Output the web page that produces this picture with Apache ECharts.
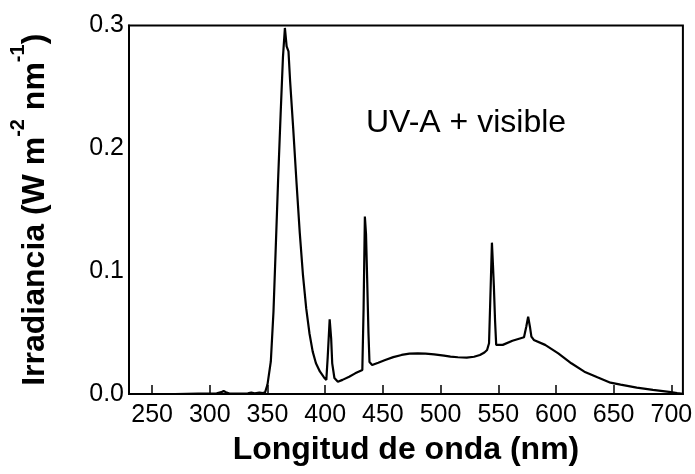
<!DOCTYPE html>
<html><head><meta charset="utf-8">
<script src="https://cdn.jsdelivr.net/npm/echarts@6/dist/echarts.min.js"></script>
<style>html,body{margin:0;padding:0;background:#fff}#c{width:695px;height:474px}</style>
</head><body><div id="c"></div>
<script>
const wavelength = [230,250,270,290,300,306,310,312,314,317,325,333,336,339,343,346,348,350,352.9,355.2,357.2,359.2,361.4,363.4,365.1,366.6,368.2,369.6,372.4,375.2,378,380.8,383.6,386.4,389.2,392,395.4,399,401,402.2,403.9,405.2,406.1,408,411,415,420.8,426,432.2,433.3,434.4,435.4,436.4,437.5,438.4,440.7,446,452,459,466.2,473,480.3,487,494.4,503,508.6,515,522.7,529,534.1,538,540.3,542,543.5,544.5,545.4,546.2,547.2,548.2,553.9,562.3,572.3,574.3,575.9,577.4,578.7,580.8,590.6,602,613.3,624.6,635.9,647.2,656,670,684,698,705,710];
const irradiance = [0,0,0,0.0003,0.0003,0.0005,0.0015,0.0025,0.0015,0.0003,0.0003,0.0005,0.0012,0.0006,0.0012,0.0008,0.0015,0.0077,0.0265,0.067,0.12,0.174,0.228,0.274,0.298,0.283,0.279,0.255,0.2146,0.1716,0.131,0.0963,0.0695,0.0493,0.0345,0.025,0.0184,0.0135,0.0115,0.03,0.0608,0.045,0.025,0.013,0.0100,0.0115,0.0141,0.0168,0.0195,0.07,0.1444,0.13,0.093,0.05,0.026,0.0236,0.0255,0.0277,0.0300,0.0318,0.0328,0.0331,0.0329,0.0323,0.0312,0.0304,0.0299,0.0296,0.0303,0.0318,0.0338,0.0358,0.0413,0.09,0.1232,0.105,0.0874,0.06,0.04,0.04,0.0434,0.0462,0.055,0.063,0.055,0.0467,0.044,0.04,0.0331,0.025,0.0182,0.0136,0.0092,0.0076,0.0052,0.0033,0.0018,0.0007,0.0002];
const xTicks = [250,300,350,400,450,500,550,600,650,700];
const yTicks = [0,0.1,0.2,0.3];
const xTitle = 'Longitud de onda (nm)';
const yTitle = '{b|Irradiancia (W m}{s|-2}{b| nm}{s|-1}{b|)}';
const annotation = 'UV-A + visible';

const FONT = 'Liberation Sans, Arial, Helvetica, sans-serif';
const chart = echarts.init(document.getElementById('c'));
chart.setOption({
  animation: false,
  backgroundColor: '#fff',
  grid: {left: 118.5, right: 12, top: 25.5, bottom: 80, show: true, borderColor: '#000', borderWidth: 2, containLabel: false},
  xAxis: {
    type: 'value', min: 230, max: 710,
    axisLine: {lineStyle: {color: '#000', width: 2}},
    axisTick: {show: true, inside: true, length: 9, lineStyle: {color: '#000', width: 1.5}, customValues: xTicks},
    axisLabel: {color: '#000', fontSize: 25, fontFamily: FONT, margin: 9, customValues: xTicks},
    splitLine: {show: false},
    name: xTitle, nameLocation: 'middle', nameGap: 40,
    nameTextStyle: {color: '#000', fontSize: 32, fontWeight: 'bold', fontFamily: FONT}
  },
  yAxis: {
    type: 'value', min: yTicks[0], max: yTicks[yTicks.length - 1], interval: 0.1,
    axisLine: {show: true, lineStyle: {color: '#000', width: 2}},
    axisTick: {show: false},
    axisLabel: {color: '#000', fontSize: 25, fontFamily: FONT, margin: 5, formatter: v => v.toFixed(1)},
    splitLine: {show: false},
    name: yTitle, nameLocation: 'middle', nameGap: 67, nameRotate: 90,
    nameTextStyle: {
      color: '#000', fontFamily: FONT,
      rich: {
        b: {fontSize: 32, fontWeight: 'bold', fontFamily: FONT, color: '#000', lineHeight: 54},
        s: {fontSize: 20, fontWeight: 'bold', fontFamily: FONT, color: '#000', lineHeight: 16, verticalAlign: 'top'}
      }
    }
  },
  graphic: [{
    type: 'text', left: 366, top: 107,
    style: {text: annotation, fontSize: 32, fontFamily: FONT, fill: '#000'}
  }],
  series: [{
    type: 'line', showSymbol: false, smooth: false,
    lineStyle: {color: '#000', width: 2.2},
    data: wavelength.map((w, i) => [w, irradiance[i]])
  }]
});
</script>
</body></html>
